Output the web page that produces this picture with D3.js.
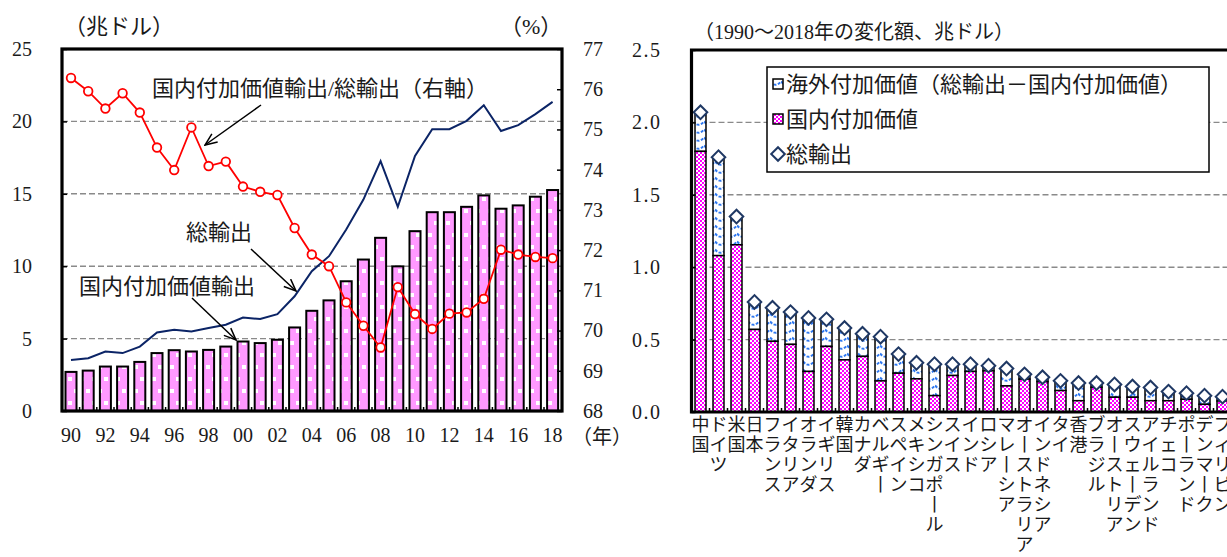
<!DOCTYPE html>
<html>
<head>
<meta charset="utf-8">
<script src="https://cdn.jsdelivr.net/npm/d3@7"></script>
<style>
  body { margin: 0; background: #fff; }
  svg { display: block; }
  text { font-family: "Liberation Serif", "Noto Sans CJK JP", serif; fill: #1a1a1a; }
</style>
</head>
<body>
<svg id="chart" width="1227" height="557"></svg>
<script>
// ---- Left panel: exports by year (trillion USD) and domestic share (%) ----
const years = [1990, 1991, 1992, 1993, 1994, 1995, 1996, 1997, 1998, 1999,
               2000, 2001, 2002, 2003, 2004, 2005, 2006, 2007, 2008, 2009,
               2010, 2011, 2012, 2013, 2014, 2015, 2016, 2017, 2018];
const grossExports = [3.53, 3.65, 4.11, 4.0, 4.45, 5.42, 5.61, 5.49, 5.73, 5.96,
                      6.46, 6.35, 6.69, 7.92, 9.65, 10.69, 12.53, 14.6, 17.26, 14.1,
                      17.61, 19.46, 19.46, 20.04, 21.12, 19.34, 19.74, 20.5, 21.35];
const domesticVA = [2.70, 2.79, 3.07, 3.07, 3.39, 4.0, 4.2, 4.11, 4.22, 4.45,
                    4.8, 4.69, 4.92, 5.77, 6.92, 7.64, 8.96, 10.46, 11.96, 9.99,
                    12.42, 13.73, 13.73, 14.1, 14.89, 13.97, 14.2, 14.8, 15.26];
const domesticShare = [76.28, 75.95, 75.52, 75.9, 75.42, 74.55, 73.99, 75.05, 74.09, 74.2,
                       73.58, 73.45, 73.37, 72.55, 71.89, 71.6, 70.7, 70.12, 69.58, 71.08,
                       70.41, 70.04, 70.42, 70.45, 70.79, 72.01, 71.89, 71.83, 71.8];
const leftTicks = [0, 5, 10, 15, 20, 25];
const rightTicks = [68, 69, 70, 71, 72, 73, 74, 75, 76, 77];
const yearTickValues = [1990, 1992, 1994, 1996, 1998, 2000, 2002, 2004, 2006, 2008,
                        2010, 2012, 2014, 2016, 2018];
const yearTickLabels = ["90", "92", "94", "96", "98", "00", "02", "04", "06", "08",
                        "10", "12", "14", "16", "18"];

// ---- Right panel: change 1990-2018 by economy (trillion USD) ----
const countries = ["中国", "ドイツ", "米国", "日本", "フランス", "イタリア", "オランダ", "イギリス",
                   "韓国", "カナダ", "ベルギー", "スペイン", "メキシコ", "シンガポール", "スイス",
                   "インド", "ロシア", "マレーシア", "オーストラリア", "インドネシア", "タイ",
                   "香港", "ブラジル", "オーストリア", "スウェーデン", "アイルランド", "チェコ",
                   "ポーランド", "デンマーク", "フィリピン"];
const changeGross = [2.07, 1.76, 1.35, 0.76, 0.72, 0.69, 0.65, 0.64, 0.58, 0.54,
                     0.52, 0.40, 0.34, 0.33, 0.33, 0.33, 0.32, 0.30, 0.26, 0.24,
                     0.215, 0.20, 0.20, 0.19, 0.176, 0.169, 0.141, 0.13, 0.113, 0.106];
const changeDomestic = [1.80, 1.08, 1.155, 0.57, 0.488, 0.467, 0.28, 0.453, 0.36, 0.384,
                        0.215, 0.268, 0.229, 0.113, 0.252, 0.28, 0.284, 0.18, 0.227, 0.21,
                        0.148, 0.078, 0.171, 0.102, 0.102, 0.078, 0.078, 0.088, 0.053, 0.076];
const changeTicks = [0, 0.5, 1.0, 1.5, 2.0, 2.5];

const svg = d3.select("#chart");
const defs = svg.append("defs");

// Pink bars with a sparse white dot pattern
const dot = defs.append("pattern").attr("id", "pinkDots")
  .attr("patternUnits", "userSpaceOnUse").attr("width", 12).attr("height", 24);
dot.append("rect").attr("width", 12).attr("height", 24).attr("fill", "#ff99ff");
dot.append("rect").attr("x", 2).attr("y", 5).attr("width", 4).attr("height", 4).attr("fill", "#fff");
dot.append("rect").attr("x", 8).attr("y", 17).attr("width", 4).attr("height", 4).attr("fill", "#fff");

// Fine magenta checkerboard
const chk = defs.append("pattern").attr("id", "magentaCheck")
  .attr("patternUnits", "userSpaceOnUse").attr("width", 4).attr("height", 4);
chk.append("rect").attr("width", 4).attr("height", 4).attr("fill", "#fff");
chk.append("rect").attr("width", 2).attr("height", 2).attr("fill", "#ff00ff");
chk.append("rect").attr("x", 2).attr("y", 2).attr("width", 2).attr("height", 2).attr("fill", "#ff00ff");

// Blue dashed wave pattern
const wav = defs.append("pattern").attr("id", "blueWave")
  .attr("patternUnits", "userSpaceOnUse").attr("width", 11).attr("height", 8);
wav.append("rect").attr("width", 11).attr("height", 8).attr("fill", "#fff");
wav.append("path").attr("d", "M0,1.5 Q5.5,8 11,1.5").attr("fill", "none")
  .attr("stroke", "#2f78f0").attr("stroke-width", 2).attr("stroke-dasharray", "3,1.5");

// Open arrowhead
defs.append("marker").attr("id", "arrowHead")
  .attr("viewBox", "0 0 14 12").attr("refX", 13).attr("refY", 6)
  .attr("markerWidth", 14).attr("markerHeight", 12).attr("markerUnits", "userSpaceOnUse")
  .attr("orient", "auto")
  .append("path").attr("d", "M1,1 L13,6 L1,11").attr("fill", "none")
  .attr("stroke", "#000").attr("stroke-width", 1.5);

// ================= Left panel =================
const L = { left: 62, right: 562, top: 49, bottom: 411 };
const x = d3.scaleBand().domain(years)
  .range([62.4, 62.4 + 17.2 * years.length]).paddingInner(0.36).paddingOuter(0.18);
const y = d3.scaleLinear().domain([0, 25]).range([L.bottom, L.top]);
const yPct = d3.scaleLinear().domain([68, 77]).range([L.bottom, L.top]);
const cx = d => x(d) + x.bandwidth() / 2;

const gl = svg.append("g");

// dashed grid lines
gl.selectAll("line.grid").data(leftTicks.filter(t => t > 0 && t < 25)).join("line")
  .attr("x1", L.left).attr("x2", L.right)
  .attr("y1", d => y(d)).attr("y2", d => y(d))
  .attr("stroke", "#8a8a8a").attr("stroke-width", 1.4).attr("stroke-dasharray", "6,3");

// domestic value-added export bars
gl.selectAll("rect.bar").data(years).join("rect")
  .attr("x", d => x(d)).attr("width", x.bandwidth())
  .attr("y", (d, i) => y(domesticVA[i]))
  .attr("height", (d, i) => y(0) - y(domesticVA[i]))
  .attr("fill", "url(#pinkDots)").attr("stroke", "#000").attr("stroke-width", 2);

// gross exports line
gl.append("path").datum(years)
  .attr("d", d3.line().x(d => cx(d)).y((d, i) => y(grossExports[i])))
  .attr("fill", "none").attr("stroke", "#0b2466").attr("stroke-width", 2);

// domestic share line (right axis)
gl.append("path").datum(years)
  .attr("d", d3.line().x(d => cx(d)).y((d, i) => yPct(domesticShare[i])))
  .attr("fill", "none").attr("stroke", "#ff0000").attr("stroke-width", 1.8);
gl.selectAll("circle.pt").data(years).join("circle")
  .attr("cx", d => cx(d)).attr("cy", (d, i) => yPct(domesticShare[i])).attr("r", 4.3)
  .attr("fill", "#fff").attr("stroke", "#ff0000").attr("stroke-width", 1.8);

// frame
gl.append("rect").attr("x", L.left).attr("y", L.top)
  .attr("width", L.right - L.left).attr("height", L.bottom - L.top)
  .attr("fill", "none").attr("stroke", "#000").attr("stroke-width", 3.2);

// axes
const axL = gl.append("g").attr("transform", `translate(${L.left},0)`)
  .call(d3.axisLeft(y).tickValues(leftTicks).tickSize(-5).tickPadding(30));
const axR = gl.append("g").attr("transform", `translate(${L.right},0)`)
  .call(d3.axisRight(yPct).tickValues(rightTicks).tickSize(-5).tickPadding(21));
const axB = gl.append("g").attr("transform", `translate(0,${L.bottom})`)
  .call(d3.axisBottom(x).tickValues(yearTickValues)
    .tickFormat(d => yearTickLabels[yearTickValues.indexOf(d)])
    .tickSize(0).tickPadding(20));
// small inward ticks between bars
gl.selectAll("line.sep").data(years.slice(1)).join("line")
  .attr("x1", d => x(d) - x.step() * x.paddingInner() / 2)
  .attr("x2", d => x(d) - x.step() * x.paddingInner() / 2)
  .attr("y1", L.bottom).attr("y2", L.bottom - 4)
  .attr("stroke", "#000").attr("stroke-width", 1.5);

[axL, axR, axB].forEach(a => {
  a.select(".domain").remove();
  a.selectAll(".tick line").attr("stroke", "#000").attr("stroke-width", 1.5);
  a.selectAll("text").attr("font-size", 20).attr("fill", "#1a1a1a")
    .style("font-family", '"Liberation Serif", serif');
});
axB.selectAll(".tick text").attr("dy", "0.55em");

gl.append("text").attr("x", 572).attr("y", 437).attr("dy", "0.35em")
  .attr("font-size", 20).text("（年）");
gl.append("text").attr("x", 64).attr("y", 26).attr("dy", "0.35em")
  .attr("font-size", 22).text("（兆ドル）");
gl.append("text").attr("x", 500).attr("y", 26).attr("dy", "0.35em")
  .attr("font-size", 22).text("（%）");

// annotations with arrows
gl.append("text").attr("x", 152).attr("y", 88).attr("dy", "0.35em")
  .attr("font-size", 22).text("国内付加価値輸出/総輸出（右軸）");
gl.append("line").attr("x1", 261).attr("y1", 105).attr("x2", 205).attr("y2", 145)
  .attr("stroke", "#000").attr("stroke-width", 1.5).attr("marker-end", "url(#arrowHead)");

gl.append("text").attr("x", 186).attr("y", 232).attr("dy", "0.35em")
  .attr("font-size", 22).text("総輸出");
gl.append("line").attr("x1", 251).attr("y1", 249).attr("x2", 296).attr("y2", 291)
  .attr("stroke", "#000").attr("stroke-width", 1.5).attr("marker-end", "url(#arrowHead)");

gl.append("text").attr("x", 79).attr("y", 286).attr("dy", "0.35em")
  .attr("font-size", 22).text("国内付加価値輸出");
gl.append("line").attr("x1", 192).attr("y1", 298).attr("x2", 236).attr("y2", 340)
  .attr("stroke", "#000").attr("stroke-width", 1.5).attr("marker-end", "url(#arrowHead)");

// ================= Right panel =================
const R = { left: 691.5, right: 1240, top: 50, bottom: 412 };
const xc = d3.scaleBand().domain(countries)
  .range([R.left, R.left + 18 * countries.length]).paddingInner(0.39).paddingOuter(0.195);
const yc = d3.scaleLinear().domain([0, 2.5]).range([R.bottom, R.top]);
const ccx = d => xc(d) + xc.bandwidth() / 2;

const gr = svg.append("g");

gr.selectAll("line.grid").data(changeTicks.filter(t => t > 0 && t < 2.5)).join("line")
  .attr("x1", R.left).attr("x2", R.right)
  .attr("y1", d => yc(d)).attr("y2", d => yc(d))
  .attr("stroke", "#8a8a8a").attr("stroke-width", 1.4).attr("stroke-dasharray", "6,3");

// foreign value added (gross minus domestic), stacked on top
gr.selectAll("rect.foreign").data(countries).join("rect")
  .attr("x", d => xc(d)).attr("width", xc.bandwidth())
  .attr("y", (d, i) => yc(changeGross[i]))
  .attr("height", (d, i) => yc(changeDomestic[i]) - yc(changeGross[i]))
  .attr("fill", "url(#blueWave)").attr("stroke", "#000").attr("stroke-width", 1.5);

// domestic value added
gr.selectAll("rect.domestic").data(countries).join("rect")
  .attr("x", d => xc(d)).attr("width", xc.bandwidth())
  .attr("y", (d, i) => yc(changeDomestic[i]))
  .attr("height", (d, i) => yc(0) - yc(changeDomestic[i]))
  .attr("fill", "url(#magentaCheck)").attr("stroke", "#000").attr("stroke-width", 1.5);

// gross exports markers
const diamond = d3.symbol().type(d3.symbolSquare).size(92);
gr.selectAll("path.mk").data(countries).join("path")
  .attr("d", diamond)
  .attr("transform", (d, i) => `translate(${ccx(d)},${yc(changeGross[i])}) rotate(45)`)
  .attr("fill", "#fff").attr("stroke", "#1f3864").attr("stroke-width", 2);

// frame
gr.append("path")
  .attr("d", `M${R.right},${R.top} H${R.left} V${R.bottom} H${R.right}`)
  .attr("fill", "none").attr("stroke", "#000").attr("stroke-width", 3.2);

const axC = gr.append("g").attr("transform", `translate(${R.left},0)`)
  .call(d3.axisLeft(yc).tickValues(changeTicks).tickSize(-4).tickPadding(30)
    .tickFormat(d3.format(".1f")));
axC.select(".domain").remove();
axC.selectAll(".tick line").attr("stroke", "#000").attr("stroke-width", 1.5);
axC.selectAll("text").attr("font-size", 20).attr("letter-spacing", 1.5)
  .style("font-family", '"Liberation Serif", serif');

gr.selectAll("line.sep").data(countries.slice(1)).join("line")
  .attr("x1", d => xc(d) - xc.step() * xc.paddingInner() / 2)
  .attr("x2", d => xc(d) - xc.step() * xc.paddingInner() / 2)
  .attr("y1", R.bottom).attr("y2", R.bottom - 4)
  .attr("stroke", "#000").attr("stroke-width", 1.5);

// vertical category labels, one character per line (long vowel drawn upright)
const lab = gr.selectAll("text.country").data(countries).join("text")
  .attr("text-anchor", "middle").attr("font-size", 18)
  .style("font-family", '"Noto Sans CJK JP", sans-serif');
lab.each(function (d) {
  const t = d3.select(this);
  Array.from(d).forEach((ch, k) => {
    t.append("tspan").attr("x", ccx(d)).attr("y", 425 + k * 20)
      .attr("dy", "0.35em").attr("fill", "#1a1a1a").text(ch === "ー" ? "丨" : ch);
  });
});

gr.append("text").attr("x", 694).attr("y", 32).attr("dy", "0.35em")
  .attr("font-size", 20).text("（1990〜2018年の変化額、兆ドル）");

// legend
const lg = gr.append("g");
lg.append("rect").attr("x", 767).attr("y", 67).attr("width", 442).attr("height", 105)
  .attr("fill", "#fff").attr("stroke", "#000").attr("stroke-width", 1.5);
const legendRows = [
  { label: "海外付加価値（総輸出－国内付加価値）", fill: "url(#blueWave)", y: 84 },
  { label: "国内付加価値", fill: "url(#magentaCheck)", y: 119 },
  { label: "総輸出", fill: null, y: 154 }
];
legendRows.forEach(r => {
  if (r.fill) {
    lg.append("rect").attr("x", 773).attr("y", r.y - 5).attr("width", 10).attr("height", 10)
      .attr("fill", r.fill).attr("stroke", "#000").attr("stroke-width", 1.5);
  } else {
    lg.append("path").attr("d", diamond)
      .attr("transform", `translate(778,${r.y}) rotate(45)`)
      .attr("fill", "#fff").attr("stroke", "#1f3864").attr("stroke-width", 2);
  }
  lg.append("text").attr("x", 786).attr("y", r.y).attr("dy", "0.35em")
    .attr("font-size", 22).text(r.label);
});
</script>
</body>
</html>
